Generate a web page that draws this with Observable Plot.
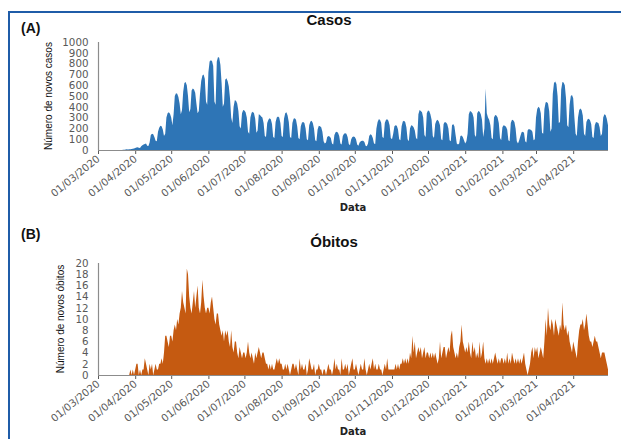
<!DOCTYPE html>
<html>
<head>
<meta charset="utf-8">
<script src="https://cdn.jsdelivr.net/npm/d3@7"></script>
<script src="https://cdn.jsdelivr.net/npm/@observablehq/plot@0.6"></script>
<style>
  html, body { margin: 0; padding: 0; background: #fff; }
  #wrap { position: relative; width: 621px; height: 439px; overflow: hidden; background: #fff; }
  #frame { position: absolute; left: 8px; top: 11px; width: 640px; height: 460px;
           border-left: 2.5px solid #1f5ca8; border-top: 2.5px solid #1f5ca8; }
  .panel { position: absolute; left: 0; }
  .t { position: absolute; white-space: nowrap; line-height: 1; }
  .title { font-family: "Liberation Sans", Arial, sans-serif; font-weight: bold; font-size: 15px; color: #111; transform: translateX(-50%); }
  .tag { font-family: "Liberation Sans", Arial, sans-serif; font-weight: bold; font-size: 14px; color: #111; }
  .ylab { font-family: "Liberation Sans", Arial, sans-serif; font-size: 10px; color: #111; transform: translate(-50%, -50%) rotate(-90deg); }
  .xlab { font-family: "DejaVu Sans", Verdana, sans-serif; font-weight: bold; font-size: 10px; color: #222; transform: translate(-50%, -50%); }
</style>
</head>
<body>
<div id="wrap">
  <div id="frame"></div>
  <div id="pA" class="panel" style="top:0px"></div>
  <div id="pB" class="panel" style="top:220px"></div>
  <div class="t tag" style="left:21px; top:21px">(A)</div>
  <div class="t title" style="left:329px; top:12px">Casos</div>
  <div class="t ylab" style="left:49px; top:96px">Número de novos casos</div>
  <div class="t xlab" style="left:353px; top:208px">Data</div>
  <div class="t tag" style="left:21px; top:227px">(B)</div>
  <div class="t title" style="left:334px; top:234px">Óbitos</div>
  <div class="t ylab" style="left:61px; top:319px">Número de novos óbitos</div>
  <div class="t xlab" style="left:353px; top:432px">Data</div>
</div>
<script>
// Daily series starting 01/03/2020 (one line per month)
const startDate = "2020-03-01";
const endDate = "2021-04-30";
const casos = [
  0,0,0,0,0,0,0, 0,0,0,0,0,0,0, 0,0,0,0,0,0,1, 2,3,4,6,5,8,7, 9,12,15,
  18,22,25,20,18,35,45,50,55,60, 40,38,70,140,150,145,120,85,80,170, 205,225,220,190,130,150,300,340,350,335,
  300,230,330,500,525,520,490,430,330,370, 540,620,630,600,500,350,380,550,570,560, 530,430,340,360,520,640,690,700,660,450, 420,
  720,820,830,825,780,450,420,820,860,855, 790,620,400,430,650,665,640,590,480,300, 250,400,460,455,430,360,220,200,340,370,
  365,350,300,170,150,300,345,355,340,290, 160,180,330,325,310,300,250,130,120,250, 280,295,285,240,120,110,260,300,310,300, 250,
  130,120,290,340,350,320,260,120,110,250, 290,295,280,220,110,100,220,255,260,250, 200,100,90,230,265,270,250,200,90,80, 190,
  225,220,210,170,80,60,70,120,130,125, 110,60,50,140,165,170,160,130,60,50, 130,150,155,150,120,55,45,100,120,125,
  120,100,50,40,70,80,85,85,75,40, 35,60,130,145,140,110,60,55,200,260, 285,280,250,120,110,250,280,285,270,230, 110,
  100,150,220,230,225,190,100,90,220,265, 270,260,210,100,80,200,230,225,210,180, 110,100,330,370,360,350,300,140,120,340,
  365,360,330,280,130,110,240,270,280,265, 230,100,90,240,260,255,240,200,90,80, 230,240,220,140,60,50,60,130,135,120, 90,
  60,80,150,330,360,355,340,300,140,120, 340,360,355,330,280,120,200,570,340,300, 280,230,110,100,300,325,320,300,250,110, 90,
  210,230,225,215,190,90,80,250,280,275, 260,200,80,60,90,130,165,170,160,80, 70,180,195,190,185,170,90,100,
  300,380,400,390,340,160,150,380,440,445, 430,360,170,200,520,620,635,610,500,250, 260,560,630,625,600,480,230,210,420,500, 510,
  480,300,150,130,300,370,385,370,320,150, 130,260,285,290,275,240,120,110,230,260, 255,250,210,130,150,300,330,325,290,230
];
const obitos = [
  0,0,0,0,0,0,0, 0,0,0,0,0,0,0, 0,0,0,0,0,0,0, 0,0,0,0,0,0,1, 0,1,0,
  1,2,2,0,1,0,1,1,3,2, 1,0,2,1,2,0,1,2,1,1, 2,2,3,2,4,7,7,6,5,7,
  7,6,8,9,8,10,9,11,12,15, 13,12,11,19,18,14,12,11,13,15, 12,14,16,12,11,13,17,14,12,11, 12,
  12,11,13,14,12,10,9,11,11,9, 8,7,8,6,8,7,8,6,5,8, 5,4,6,6,4,3,5,4,3,4,
  4,3,4,6,4,3,4,3,2,4, 3,4,5,4,3,4,4,3,2,2, 1,2,1,2,1,1,2,3,2,3, 2,
  2,1,1,2,1,2,1,0,1,2, 2,1,2,1,0,3,1,2,1,1, 2,0,1,3,2,1,1,2,0,1, 1,
  2,1,1,0,1,1,0,1,2,1, 1,0,1,3,1,2,1,1,0,3, 1,1,2,1,2,0,1,2,3,1,
  1,2,1,0,1,2,1,1,3,1, 0,1,2,1,2,3,1,2,1,1, 2,1,1,0,1,2,1,3,1,1, 1,
  1,1,1,2,1,2,1,2,2,3, 2,3,2,3,2,4,3,7,4,6, 3,4,5,4,5,3,4,5,3,4,
  4,3,4,3,4,3,4,3,2,3, 6,3,4,5,5,3,4,5,4,7, 8,5,4,3,4,3,5,6,9,6, 5,
  4,5,4,6,4,3,6,4,5,3, 4,3,6,3,4,6,3,2,3,2, 3,2,3,2,3,4,3,2,3,2, 3,
  3,2,3,2,4,2,3,2,4,3, 2,3,2,3,2,3,2,3,4,2, 1,0,1,2,4,5,3,5,
  4,5,3,4,5,4,3,6,10,7, 12,9,8,10,9,7,10,9,8,7, 9,8,13,9,8,9,7,8,6,5, 4,
  6,5,4,3,6,8,9,9,10,8, 9,11,9,7,6,6,5,6,7,6, 6,5,4,3,4,4,4,3,2,1
];
const yTicksCasos = [0,100,200,300,400,500,600,700,800,900,1000];
const yTicksObitos = [0,2,4,6,8,10,12,14,16,18,20];

const d0 = new Date(startDate + "T00:00:00Z");
const d1 = new Date(endDate + "T00:00:00Z");
const toRows = arr => arr.map((v, i) => ({date: d3.utcDay.offset(d0, i), value: v}));
const monthTicks = d3.utcMonth.range(d0, d3.utcDay.offset(d1, 1));
const fmt = d3.utcFormat("%d/%m/%Y");

function panel(rows, yMax, yTicks, color, mTop, mBottom, h) {
  return Plot.plot({
    width: 621, height: h,
    marginLeft: 98, marginRight: 13, marginTop: mTop, marginBottom: mBottom,
    style: {fontFamily: "DejaVu Sans, Verdana, sans-serif", fontSize: "10.3px", color: "#595959", background: "transparent"},
    x: {type: "utc", domain: [d0, d1], ticks: monthTicks, tickFormat: fmt, tickRotate: -39, tickSize: 4, tickPadding: 3, label: null},
    y: {domain: [0, yMax], ticks: yTicks, tickFormat: d => String(d), tickSize: 0, tickPadding: 10, label: null},
    marks: [
      Plot.areaY(rows, {x: "date", y: "value", fill: color, curve: "linear"}),
      Plot.ruleY([0], {stroke: "#8c8c8c", strokeWidth: 1.2}),
      Plot.ruleX([d0], {stroke: "#8c8c8c", strokeWidth: 1.2})
    ]
  });
}

document.getElementById("pA").append(panel(toRows(casos), 1000, yTicksCasos, "#2E75B6", 42, 70, 220));
document.getElementById("pB").append(panel(toRows(obitos), 20, yTicksObitos, "#C55A11", 43, 64, 219));
</script>
</body>
</html>
